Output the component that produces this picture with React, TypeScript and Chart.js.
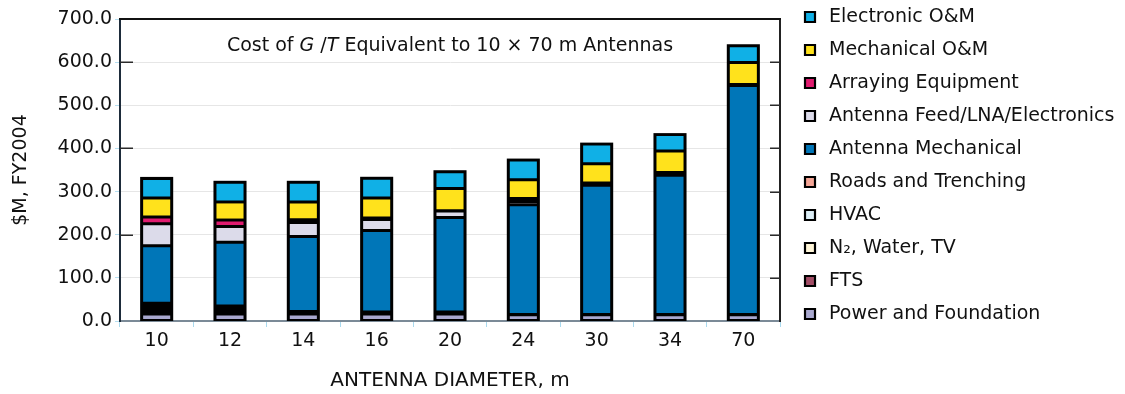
import React, { useEffect, useRef } from 'react';
import { Chart, registerables } from 'chart.js';

Chart.register(...registerables);

// ---- data (values in $M, FY2004), stacked bottom -> top ----
const categories = ['10', '12', '14', '16', '20', '24', '30', '34', '70'];
const powerFoundation = [16, 16, 16, 16, 16, 14.5, 14.5, 14.5, 14.5];
const fts = [6, 5, 1.5, 1.2, 1.2, 0.2, 0.2, 0.2, 0.2];
const n2WaterTv = [6, 4, 1.5, 1.2, 1.2, 0.2, 0.2, 0.2, 0.2];
const hvac = [6, 5, 1.5, 1.3, 1.3, 0.2, 0.2, 0.2, 0.2];
const roadsTrenching = [7, 5, 1.5, 1.3, 1.3, 0.2, 0.2, 0.2, 0.2];
const antennaMechanical = [133.5, 147.4, 174, 189, 219, 254.4, 299.2, 322.4, 530.7];
const antennaFeed = [51, 36.6, 32.5, 25, 15, 7, 3, 3, 1];
const arrayingEquipment = [15.5, 15, 6, 4, 0.5, 7, 2.5, 3.3, 1];
const mechanicalOM = [44, 42, 41.5, 46, 51.5, 43.9, 44.7, 50, 51];
const electronicOM = [45.5, 45.5, 45.5, 45.8, 39, 45.4, 45.3, 38, 39];
const yTicks = [0, 100, 200, 300, 400, 500, 600, 700];

const seriesLabels = [
  'Power and Foundation',
  'FTS',
  'N\u2082, Water, TV',
  'HVAC',
  'Roads and Trenching',
  'Antenna Mechanical',
  'Antenna Feed/LNA/Electronics',
  'Arraying Equipment',
  'Mechanical O&M',
  'Electronic O&M',
];
const seriesValues = [
  powerFoundation, fts, n2WaterTv, hvac, roadsTrenching,
  antennaMechanical, antennaFeed, arrayingEquipment, mechanicalOM, electronicOM,
];
const seriesColors = [
  '#a9a8cf', '#a24d66', '#fff6d8', '#dceef6', '#f4a596',
  '#0076b8', '#dcdbea', '#e01b6f', '#ffe21c', '#10b0e6',
];

const FONT = '"DejaVu Sans", "Liberation Sans", Arial, sans-serif';
const FS = 19;

// black outline behind each stacked column (gives the heavy outer frame)
const outlinePlugin = {
  id: 'outline',
  beforeDatasetsDraw(chart: any) {
    const metas = chart.getSortedVisibleDatasetMetas();
    if (!metas.length) return;
    const first = metas[0];
    const top = metas[metas.length - 1];
    const { ctx } = chart;
    ctx.save();
    ctx.fillStyle = '#000';
    first.data.forEach((bar: any, i: number) => {
      const t = top.data[i].y;
      const base = bar.base;
      const w = bar.width;
      ctx.fillRect(bar.x - w / 2 - 1.5, t - 1.5, w + 3, base - t + 2);
    });
    ctx.restore();
  },
};

const decorPlugin = {
  id: 'decor',
  afterDraw(chart: any) {
    const { ctx, chartArea: a, scales } = chart;
    const y = scales.y;
    ctx.save();
    // top frame line
    ctx.strokeStyle = '#111';
    ctx.lineWidth = 2;
    ctx.beginPath();
    ctx.moveTo(a.left - 1, a.top);
    ctx.lineTo(a.right + 1, a.top);
    ctx.stroke();
    // inner ticks
    ctx.strokeStyle = '#2a2a2a';
    ctx.lineWidth = 1.5;
    for (const v of yTicks) {
      if (v === 0 || v === 700) continue;
      const py = Math.round(y.getPixelForValue(v)) + 0.25;
      ctx.beginPath();
      ctx.moveTo(a.right - 10, py);
      ctx.lineTo(a.right, py);
      ctx.stroke();
      if (v % 200 === 0) {
        ctx.beginPath();
        ctx.moveTo(a.left, py);
        ctx.lineTo(a.left + 13, py);
        ctx.stroke();
      }
    }
    // in-plot title with italic G and T
    const parts: [string, boolean][] = [
      ['Cost of ', false],
      ['G', true],
      [' /', false],
      ['T', true],
      [' Equivalent to 10 \u00d7 70 m Antennas', false],
    ];
    let total = 0;
    const widths: number[] = [];
    for (const [t, it] of parts) {
      ctx.font = `${it ? 'italic ' : ''}${FS}px ${FONT}`;
      const w = ctx.measureText(t).width;
      widths.push(w);
      total += w;
    }
    let x = (a.left + a.right) / 2 - total / 2;
    const ty = 46;
    ctx.fillStyle = '#111';
    ctx.textBaseline = 'middle';
    ctx.textAlign = 'left';
    parts.forEach(([t, it], i) => {
      ctx.font = `${it ? 'italic ' : ''}${FS}px ${FONT}`;
      ctx.fillText(t, x, ty);
      x += widths[i];
    });
    ctx.restore();
  },
};

export default function App() {
  const ref = useRef<HTMLCanvasElement>(null);

  useEffect(() => {
    if (!ref.current) return;
    const mctx = document.createElement('canvas').getContext('2d')!;
    mctx.font = `${FS}px ${FONT}`;
    const tw = Math.max(...seriesLabels.map((l) => mctx.measureText(l).width));
    const legendPad = 14;
    const legendWidth = legendPad + 19 + FS / 2 + tw + 10;
    const legendLeft = 786.5;
    const padRight = 1125 - legendLeft - legendWidth;

    const datasets = seriesLabels.map((label, i) => ({
      label,
      data: seriesValues[i],
      backgroundColor: seriesColors[i],
      borderColor: '#000',
      borderWidth: 1.5,
      borderSkipped: false,
      inflateAmount: 0,
      barPercentage: 0.41,
      categoryPercentage: 1,
      yAxisID: 'y',
    }));

    const defaultLabels = (Chart as any).defaults.plugins.legend.labels.generateLabels;

    const chart = new Chart(ref.current, {
      type: 'bar',
      data: { labels: categories, datasets },
      plugins: [outlinePlugin, decorPlugin],
      options: {
        animation: false,
        responsive: false,
        maintainAspectRatio: false,
        layout: { padding: { top: -6.5, right: padRight, bottom: 0, left: 0 } },
        plugins: {
          title: { display: false },
          tooltip: { enabled: false },
          legend: {
            display: true,
            position: 'right',
            align: 'start',
            reverse: true,
            maxWidth: 420,
            labels: {
              usePointStyle: true,
              pointStyle: 'rect',
              boxWidth: 19,
              boxHeight: 10,
              padding: legendPad,
              color: '#111',
              font: { family: FONT, size: FS },
              generateLabels: (c: any) =>
                defaultLabels(c).map((l: any) => ({ ...l, lineWidth: 2.2 })),
            },
          },
        },
        scales: {
          x: {
            stacked: true,
            offset: true,
            grid: {
              display: true,
              offset: true,
              drawOnChartArea: false,
              drawTicks: true,
              tickLength: 6,
              tickColor: '#a9d9ee',
            },
            border: { display: true, color: '#7b8a97', width: 2 },
            ticks: { color: '#111', font: { family: FONT, size: FS }, padding: 3 },
            title: {
              display: true,
              text: 'ANTENNA DIAMETER, m',
              color: '#111',
              font: { family: FONT, size: 20 },
              padding: { top: 0, bottom: 1 },
            },
            afterFit: (s: any) => {
              s.height = 73;
            },
          },
          y: {
            stacked: true,
            min: 0,
            max: 700,
            position: 'left',
            ticks: {
              stepSize: 100,
              color: '#111',
              font: { family: FONT, size: FS },
              padding: 3,
              callback: (v: any) => Number(v).toFixed(1),
            },
            grid: {
              color: '#e6e6e6',
              lineWidth: 1,
              tickColor: '#b5def0',
              tickLength: 5,
            },
            border: { display: true, color: '#1d2b3a', width: 2 },
            title: {
              display: true,
              text: '$M, FY2004',
              color: '#111',
              font: { family: FONT, size: FS },
              padding: { top: 10, bottom: 0 },
            },
            afterFit: (s: any) => {
              s.width = 120;
              s.paddingTop = 19;
            },
          },
          y2: {
            position: 'right',
            min: 0,
            max: 700,
            ticks: { display: false },
            grid: { drawOnChartArea: false, drawTicks: false },
            border: { display: true, color: '#222', width: 2 },
            afterFit: (s: any) => {
              s.width = 6.5;
            },
          },
        },
      },
    } as any);
    return () => chart.destroy();
  }, []);

  return (
    <div style={{ position: 'absolute', left: 0, top: 0, width: 1125, height: 394, background: '#fff' }}>
      <canvas ref={ref} width={1125} height={394} style={{ display: 'block' }} />
    </div>
  );
}
